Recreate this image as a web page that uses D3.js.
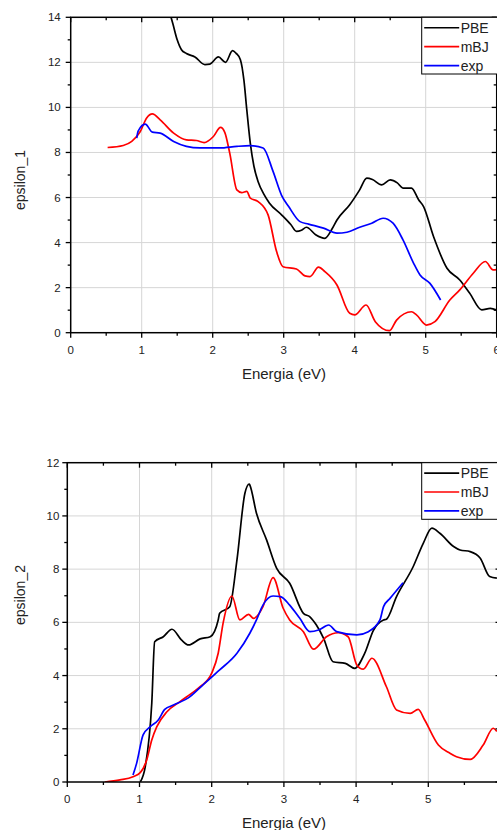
<!DOCTYPE html>
<html>
<head>
<meta charset="utf-8">
<script src="https://cdn.jsdelivr.net/npm/d3@7"></script>
<style>
  html, body { margin: 0; padding: 0; background: #fff; overflow: hidden; }
  svg { display: block; font-family: "Liberation Sans", Arial, sans-serif; }
</style>
</head>
<body>
<svg id="chart" width="497" height="830"></svg>
<script>
// series names / colours for the legend
const seriesNames = ["PBE", "mBJ", "exp"];
const seriesColors = ["#000000", "#ff0000", "#0000ff"];

// epsilon_1 : [energy (eV), value]
const eps1PBE = [
  [1.36, 14.6], [1.44, 13.7], [1.50, 13.0], [1.56, 12.56], [1.63, 12.39], [1.75, 12.24], [1.89, 11.9],
  [1.96, 11.92], [2.08, 12.24], [2.18, 12.0], [2.28, 12.52], [2.33, 12.4], [2.39, 12.12], [2.44, 11.2],
  [2.48, 9.9], [2.53, 8.4], [2.58, 7.4], [2.64, 6.7], [2.72, 6.15], [2.80, 5.75], [2.97, 5.23],
  [3.10, 4.8], [3.18, 4.5], [3.25, 4.55], [3.32, 4.68], [3.45, 4.35], [3.58, 4.19], [3.68, 4.6],
  [3.75, 5.0], [3.93, 5.68], [4.07, 6.34], [4.17, 6.86], [4.25, 6.8], [4.38, 6.56], [4.50, 6.78],
  [4.60, 6.65], [4.68, 6.42], [4.80, 6.42], [4.90, 5.9], [4.97, 5.6], [5.11, 4.27], [5.30, 2.86],
  [5.48, 2.34], [5.62, 1.75], [5.79, 1.01], [5.91, 1.08], [6.0, 1.0]
];
const eps1MBJ = [
  [0.52, 8.22], [0.74, 8.31], [0.86, 8.49], [0.98, 8.93], [1.07, 9.53], [1.15, 9.71], [1.26, 9.45],
  [1.45, 8.86], [1.63, 8.56], [1.77, 8.53], [1.88, 8.44], [2.01, 8.71], [2.11, 9.11], [2.17, 8.89],
  [2.24, 7.97], [2.34, 6.34], [2.41, 6.22], [2.48, 6.27], [2.53, 5.97], [2.64, 5.82], [2.78, 5.23],
  [2.90, 3.6], [2.99, 2.93], [3.18, 2.83], [3.30, 2.52], [3.37, 2.49], [3.49, 2.91], [3.58, 2.71],
  [3.75, 2.12], [3.93, 0.86], [4.00, 0.79], [4.16, 1.23], [4.29, 0.49], [4.49, 0.09], [4.59, 0.56],
  [4.80, 0.93], [4.87, 0.79], [5.01, 0.34], [5.13, 0.49], [5.34, 1.45], [5.48, 1.9], [5.67, 2.64],
  [5.84, 3.16], [5.95, 2.79], [6.0, 2.8]
];
const eps1Exp = [
  [0.93, 8.64], [0.95, 8.95], [1.05, 9.26], [1.15, 8.9], [1.26, 8.86], [1.45, 8.49], [1.63, 8.27],
  [1.82, 8.2], [2.10, 8.2], [2.34, 8.27], [2.53, 8.3], [2.71, 8.2], [2.85, 7.16], [2.97, 6.1],
  [3.07, 5.6], [3.23, 4.93], [3.35, 4.82], [3.56, 4.64], [3.75, 4.42], [3.89, 4.46], [4.07, 4.68],
  [4.24, 4.86], [4.40, 5.08], [4.54, 4.86], [4.68, 4.12], [4.83, 3.08], [4.92, 2.56], [5.06, 2.19],
  [5.21, 1.45]
];

// epsilon_2 : [energy (eV), value]
const eps2PBE = [
  [1.01, 0.0], [1.08, 0.58], [1.17, 2.96], [1.21, 5.27], [1.33, 5.46], [1.45, 5.74], [1.58, 5.34],
  [1.68, 5.15], [1.84, 5.38], [1.98, 5.46], [2.09, 6.09], [2.11, 6.34], [2.25, 6.59], [2.35, 8.35],
  [2.46, 10.85], [2.52, 11.2], [2.53, 11.15], [2.62, 10.1], [2.76, 9.1], [2.90, 8.03], [3.08, 7.47],
  [3.27, 6.34], [3.36, 6.21], [3.45, 5.9], [3.55, 5.4], [3.68, 4.52], [3.85, 4.46], [3.98, 4.27],
  [4.12, 4.84], [4.24, 5.7], [4.38, 6.09], [4.42, 6.12], [4.56, 6.97], [4.79, 8.09], [4.93, 8.97],
  [5.05, 9.54], [5.16, 9.35], [5.35, 8.85], [5.44, 8.72], [5.58, 8.66], [5.72, 8.41], [5.85, 7.72],
  [5.95, 7.66]
];
const eps2MBJ = [
  [0.52, 0.0], [0.73, 0.08], [0.91, 0.2], [1.01, 0.35], [1.10, 0.83], [1.17, 1.58], [1.24, 2.08],
  [1.38, 2.64], [1.56, 3.02], [1.72, 3.33], [1.84, 3.58], [2.00, 4.09], [2.09, 4.84], [2.16, 6.0],
  [2.28, 6.99], [2.39, 6.09], [2.51, 6.3], [2.58, 6.15], [2.71, 6.59], [2.85, 7.68], [2.99, 6.53],
  [3.08, 6.09], [3.27, 5.65], [3.41, 4.99], [3.59, 5.46], [3.75, 5.61], [3.89, 5.46], [4.01, 4.4],
  [4.10, 4.24], [4.22, 4.65], [4.42, 3.58], [4.56, 2.71], [4.75, 2.58], [4.86, 2.73], [4.95, 2.33],
  [5.14, 1.39], [5.30, 1.08], [5.39, 0.95], [5.58, 0.85], [5.76, 1.39], [5.90, 2.02], [5.95, 1.9]
];
const eps2Exp = [
  [0.91, 0.26], [0.96, 0.7], [1.05, 1.77], [1.15, 2.08], [1.26, 2.33], [1.35, 2.73], [1.47, 2.89],
  [1.70, 3.21], [1.88, 3.65], [2.11, 4.21], [2.35, 4.84], [2.53, 5.6], [2.62, 6.09], [2.71, 6.65],
  [2.85, 6.99], [2.95, 6.97], [3.08, 6.65], [3.22, 6.15], [3.36, 5.65], [3.48, 5.71], [3.62, 5.9],
  [3.73, 5.65], [4.01, 5.53], [4.17, 5.65], [4.33, 6.09], [4.38, 6.59], [4.47, 6.9], [4.65, 7.49]
];

const xTicks = [0, 1, 2, 3, 4, 5, 6];
const eps1Ticks = [0, 2, 4, 6, 8, 10, 12, 14];
const eps2Ticks = [0, 2, 4, 6, 8, 10, 12];

const svg = d3.select("#chart");

function drawPanel(opts) {
  const {id, left, right, top, bottom, yMax, yTicks, series, yLabel, labelY,
         xLabelY, titleY, legendBottom, yLabelGap} = opts;

  const x = d3.scaleLinear().domain([0, 6]).range([left, right]);
  const y = d3.scaleLinear().domain([0, yMax]).range([bottom, top]);
  const g = svg.append("g");

  svg.append("defs").append("clipPath")
    .attr("id", "clip-" + id)
    .append("rect")
    .attr("x", left).attr("y", top)
    .attr("width", right - left).attr("height", bottom - top);

  // grid
  g.append("g").selectAll("line")
    .data(xTicks.filter(d => d > 0 && d < 6))
    .join("line")
    .attr("x1", d => x(d)).attr("x2", d => x(d))
    .attr("y1", top).attr("y2", bottom)
    .attr("stroke", "#d6d6d6").attr("stroke-width", 1);
  g.append("g").selectAll("line")
    .data(yTicks.filter(d => d > 0 && d < yMax))
    .join("line")
    .attr("x1", left).attr("x2", right)
    .attr("y1", d => y(d)).attr("y2", d => y(d))
    .attr("stroke", "#d6d6d6").attr("stroke-width", 1);

  // curves
  const line = d3.line()
    .x(d => x(d[0]))
    .y(d => y(d[1]))
    .curve(d3.curveMonotoneX);

  const curves = g.append("g").attr("clip-path", `url(#clip-${id})`);
  series.forEach((s, i) => {
    curves.append("path")
      .datum(s)
      .attr("fill", "none")
      .attr("stroke", seriesColors[i])
      .attr("stroke-width", 1.7)
      .attr("stroke-linejoin", "round")
      .attr("d", line);
  });

  // axes: bottom/left ticks outward, top/right inward
  const xMinor = d3.range(0.5, 6, 1);
  const yMinor = d3.range(1, yMax, 2);
  const xAll = xTicks.map(d => [d, 5]).concat(xMinor.map(d => [d, 3]));
  const yAll = yTicks.map(d => [d, 5]).concat(yMinor.map(d => [d, 3]));

  const axes = g.append("g").attr("stroke", "#000").attr("stroke-width", 1.3);
  axes.selectAll("line.xb")
    .data(xAll)
    .join("line")
    .attr("x1", d => x(d[0])).attr("x2", d => x(d[0]))
    .attr("y1", bottom).attr("y2", d => bottom + d[1]);
  axes.selectAll("line.xt")
    .data(xAll)
    .join("line")
    .attr("x1", d => x(d[0])).attr("x2", d => x(d[0]))
    .attr("y1", top).attr("y2", d => top + d[1]);
  axes.selectAll("line.yl")
    .data(yAll)
    .join("line")
    .attr("x1", left).attr("x2", d => left - d[1])
    .attr("y1", d => y(d[0])).attr("y2", d => y(d[0]));
  axes.selectAll("line.yr")
    .data(yAll)
    .join("line")
    .attr("x1", right).attr("x2", d => right - d[1])
    .attr("y1", d => y(d[0])).attr("y2", d => y(d[0]));

  g.append("rect")
    .attr("x", left).attr("y", top)
    .attr("width", right - left).attr("height", bottom - top)
    .attr("fill", "none").attr("stroke", "#000").attr("stroke-width", 1.5);

  // tick labels (labels past the window edge are not drawn)
  g.append("g").selectAll("text")
    .data(xTicks.filter(d => x(d) <= 497))
    .join("text")
    .attr("x", d => x(d)).attr("y", xLabelY)
    .attr("text-anchor", "middle")
    .attr("dominant-baseline", "central")
    .attr("font-size", 11.5).attr("fill", "#222")
    .text(d => d);
  g.append("g").selectAll("text")
    .data(yTicks)
    .join("text")
    .attr("x", left - yLabelGap).attr("y", d => y(d))
    .attr("text-anchor", "end")
    .attr("dominant-baseline", "central")
    .attr("font-size", 11.5).attr("fill", "#222")
    .text(d => d);

  // axis titles
  g.append("text")
    .attr("x", 284).attr("y", titleY)
    .attr("text-anchor", "middle").attr("dominant-baseline", "central")
    .attr("font-size", 15).attr("fill", "#222")
    .text("Energia (eV)");
  g.append("text")
    .attr("transform", `translate(20,${labelY}) rotate(-90)`)
    .attr("text-anchor", "middle").attr("dominant-baseline", "central")
    .attr("font-size", 14).attr("fill", "#222")
    .text(yLabel);

  // legend
  const lx = 421.7;
  const lg = g.append("g");
  lg.append("rect")
    .attr("x", lx).attr("y", top)
    .attr("width", 100).attr("height", legendBottom - top)
    .attr("fill", "#fff").attr("stroke", "#000").attr("stroke-width", 1);
  const rowH = (legendBottom - top) / 3;
  seriesNames.forEach((name, i) => {
    const cy = top + rowH * (i + 0.5) + 1;
    lg.append("line")
      .attr("x1", lx + 2.5).attr("x2", lx + 37.5)
      .attr("y1", cy).attr("y2", cy)
      .attr("stroke", seriesColors[i]).attr("stroke-width", 1.7);
    lg.append("text")
      .attr("x", lx + 39).attr("y", cy)
      .attr("dominant-baseline", "central")
      .attr("font-size", 14).attr("fill", "#222")
      .text(name);
  });
}

drawPanel({
  id: "eps1", left: 70.7, right: 496.7, top: 17.3, bottom: 332.7,
  yMax: 14, yTicks: eps1Ticks, series: [eps1PBE, eps1MBJ, eps1Exp],
  yLabel: "epsilon_1", labelY: 180, xLabelY: 349.5, titleY: 373, legendBottom: 74, yLabelGap: 10
});

drawPanel({
  id: "eps2", left: 67.3, right: 500.5, top: 462.7, bottom: 782,
  yMax: 12, yTicks: eps2Ticks, series: [eps2PBE, eps2MBJ, eps2Exp],
  yLabel: "epsilon_2", labelY: 595, xLabelY: 798.5, titleY: 822, legendBottom: 519.3, yLabelGap: 8
});
</script>
</body>
</html>
